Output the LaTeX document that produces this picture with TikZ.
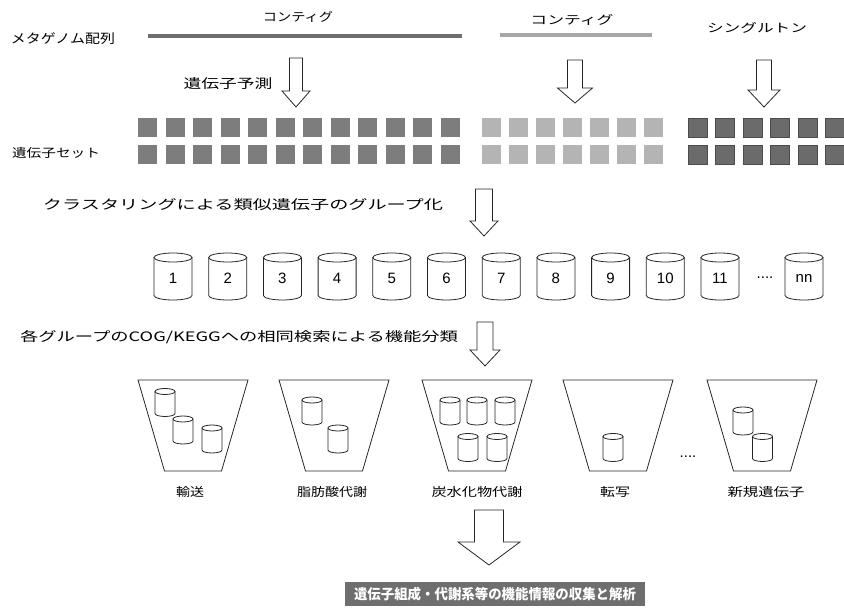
\documentclass[tikz,border=0pt]{standalone}
\usepackage{fontspec}
\usepackage{graphicx}
\setmainfont{Noto Sans CJK JP}
\newfontfamily\numfont{Liberation Sans}
\definecolor{lineA}{HTML}{6E6E6E}
\definecolor{lineB}{HTML}{A6A6A6}
\definecolor{sqAcol}{HTML}{7D7D7D}
\definecolor{sqBcol}{HTML}{B4B4B4}
\definecolor{sqCcol}{HTML}{6B6B6B}
\definecolor{barcol}{HTML}{6E6E6E}
\newcommand\jt[3]{\resizebox{#1pt}{\height}{\fontsize{#2pt}{#2pt}\selectfont #3}}
\newcommand\blockarrow[6]{% x, ytop, ybot, shaft half width, head half width, head start
  \draw[barrowline] ({#1-#4},#2) -- ({#1+#4},#2) -- ({#1+#4},#6) -- ({#1+#5},#6) -- (#1,#3) -- ({#1-#5},#6) -- ({#1-#4},#6) -- cycle;}
\newcommand\cyl[7]{% name, x, y, w, h, r, text
  \pgfmathsetmacro\cylA{#4/2}\pgfmathsetmacro\cylB{#5/2}
  \draw[cylline] ({#2-\cylA},{#3-\cylB+#6}) -- ({#2-\cylA},{#3+\cylB-#6}) arc[start angle=180,end angle=360,x radius=\cylA pt,y radius=#6pt] -- ({#2+\cylA},{#3-\cylB+#6});
  \draw[cylline] (#2,{#3-\cylB+#6}) ellipse[x radius=\cylA pt,y radius=#6pt];
  \node[numtxt] (#1) at (#2,{#3+#6/2}) {#7};}
\newcommand\cupshape[2]{% name, x
  \draw[cupline] ({#2-55},380) -- ({#2+55},380) -- ({#2+28.5},471) -- ({#2-28.5},471) -- cycle;
  \coordinate (#1) at (#2,425.5);}
\tikzset{
  txt/.style={inner sep=0pt,anchor=center},
  numtxt/.style={inner sep=0pt,anchor=center,font=\numfont\fontsize{15pt}{15pt}\selectfont},
  barrowline/.style={draw=black!85,line width=0.8pt,fill=white,line join=miter},
  cylline/.style={draw=black!85,line width=0.8pt},
  cupline/.style={draw=black!85,line width=0.8pt,line join=miter},
  sqA/.style={minimum size=19pt,inner sep=0pt,fill=sqAcol},
  sqB/.style={minimum size=19pt,inner sep=0pt,fill=sqBcol},
  sqC/.style={minimum size=19pt,inner sep=0pt,fill=sqCcol,draw=black!70,line width=0.6pt},
  resultbar/.style={fill=barcol,text=white,minimum width=300pt,minimum height=24pt,inner sep=0pt}
}
\begin{document}
\begin{tikzpicture}[x=1pt,y=-1pt]
\useasboundingbox (0,0) rectangle (844,609);
% row 1
\node[txt] (meta) at (63,38.5) {\jt{104}{13}{メタゲノム配列}};
\node[txt] (contig1) at (298,17) {\jt{70}{12}{コンティグ}};
\node[txt] (contig2) at (572,20) {\jt{83}{12}{コンティグ}};
\node[txt] (single) at (757,28) {\jt{100}{12}{シングルトン}};
\draw[lineA,line width=4.5pt] (148,36) -- (462,36);
\draw[lineB,line width=4.5pt] (500,35) -- (652,35);
% arrows
\node[txt] (predict) at (228,84) {\jt{89}{13}{遺伝子予測}};
\blockarrow{296}{58}{107}{6.5}{14}{91}
\blockarrow{575}{60}{103}{7.5}{17.5}{88}
\blockarrow{764}{60}{107}{7.5}{16}{90}
% gene set
\node[txt] (geneset) at (56,153) {\jt{88}{12}{遺伝子セット}};
\foreach \i in {0,...,11}{
  \node[sqA] (a1-\i) at ({147.5+27.5*\i},127.5) {};
  \node[sqA] (a2-\i) at ({147.5+27.5*\i},154.5) {};}
\foreach \i in {0,...,6}{
  \node[sqB] (b1-\i) at ({491.5+27*\i},127.5) {};
  \node[sqB] (b2-\i) at ({491.5+27*\i},154.5) {};}
\foreach \i in {0,...,5}{
  \node[sqC] (c1-\i) at ({697.5+27.5*\i},127.5) {};
  \node[sqC] (c2-\i) at ({697.5+27.5*\i},154.5) {};}
% clustering
\node[txt] (cluster) at (243,205) {\jt{400}{13}{クラスタリングによる類似遺伝子のグループ化}};
\blockarrow{484}{189}{236}{8.5}{14}{221}
\foreach \i in {1,...,11}{
  \pgfmathsetmacro\cx{173+54.7*(\i-1)}
  \cyl{g\i}{\cx}{276.5}{38}{47}{4.5}{\i}}
\node[numtxt] (gdots) at (765,278) {....};
\cyl{gnn}{804}{276.5}{38}{47}{4.5}{nn}
% classification
\node[txt] (classify) at (239,337) {\jt{438}{13}{各グループのCOG/KEGGへの相同検索による機能分類}};
\blockarrow{485}{322}{366}{8}{15}{350}
\cupshape{t1}{193}
\cupshape{t2}{334}
\cupshape{t3}{477}
\cupshape{t4}{618}
\cupshape{t5}{762}
\node[numtxt] (tdots) at (688,457) {....};
% small cylinders
\cyl{s11}{165}{402.5}{20}{28}{3}{}
\cyl{s12}{183}{430}{20}{28}{3}{}
\cyl{s13}{212}{439}{20}{28}{3}{}
\cyl{s21}{312}{411}{20}{28}{3}{}
\cyl{s22}{338}{439}{20}{28}{3}{}
\cyl{s31}{450}{411}{20}{28}{3}{}
\cyl{s32}{477}{411}{20}{28}{3}{}
\cyl{s33}{505}{411}{20}{28}{3}{}
\cyl{s34}{468}{447.5}{20}{28}{3}{}
\cyl{s35}{497}{447.5}{20}{28}{3}{}
\cyl{s41}{613}{447.5}{20}{28}{3}{}
\cyl{s51}{743}{421}{20}{28}{3}{}
\cyl{s52}{762.5}{447.5}{20}{28}{3}{}
% labels
\node[txt] (l1) at (190,492) {\jt{28}{12}{輸送}};
\node[txt] (l2) at (332,492) {\jt{70}{12}{脂肪酸代謝}};
\node[txt] (l3) at (477,492) {\jt{91}{12}{炭水化物代謝}};
\node[txt] (l4) at (615,492) {\jt{30}{12}{転写}};
\node[txt] (l5) at (766,492) {\jt{77}{12}{新規遺伝子}};
% final
\blockarrow{489}{510}{565}{14.5}{31}{542}
\node[resultbar] (result) at (495,594) {\jt{282}{14}{\bfseries 遺伝子組成・代謝系等の機能情報の収集と解析}};
\end{tikzpicture}
\end{document}
